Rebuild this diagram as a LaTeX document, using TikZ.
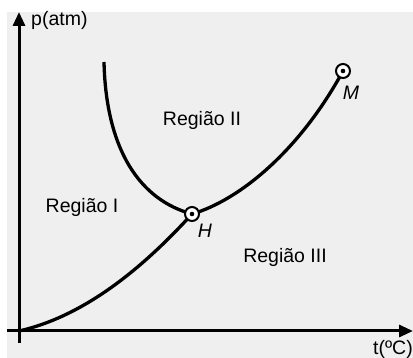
\documentclass[tikz,border=0pt]{standalone}
\usepackage{fontspec}
\setmainfont{Liberation Sans}
\usetikzlibrary{arrows.meta}
\definecolor{bggray}{HTML}{EFEFEF}

\begin{document}
\begin{tikzpicture}[x=1pt,y=-1pt,
    axis/.style={line width=3pt,-{Triangle[length=14pt,width=12pt]}},
    curve/.style={line width=3.3pt},
    lbl/.style={inner sep=0pt,font=\fontsize{19.5}{22}\selectfont}]
    % Size of the marked points
    \def\rad{7}

    % Gray background, white margin on the top and left
    \useasboundingbox (0,0) rectangle (413,358);
    \fill[bggray] (7,12) rectangle (413,358);

    % Points of the diagram
    \coordinate (O) at (19,331);
    \coordinate (H) at (192,214);
    \coordinate (M) at (343,71);
    \coordinate (top) at (104,62);

    % Axes
    \coordinate (ybot) at (19,343);
    \coordinate (ytop) at (19,12);
    \coordinate (xleft) at (7,331);
    \coordinate (xright) at (413,331);
    \draw[axis] (ybot) -- (ytop);
    \draw[axis] (xleft) -- (xright);

    % Curves between the regions
    \draw[curve] (O) .. controls (90,315) and (150,260) .. (H);
    \draw[curve] (top) .. controls (106,150) and (140,200) .. (H);
    \draw[curve] (H) .. controls (240,200) and (300,150) .. (M);

    % Marked points H and M
    \filldraw[fill=white,line width=2pt] (H) circle (\rad);
    \fill (H) circle (2.3);
    \filldraw[fill=white,line width=2pt] (M) circle (\rad);
    \fill (M) circle (2.3);

    % Labels
    \node[lbl,anchor=west] (plabel) at (31,20) {p(atm)};
    \node[lbl,anchor=east] (tlabel) at (413,349) {t(ºC)};
    \node[lbl] (hlabel) at (205,231) {\itshape H};
    \node[lbl] (mlabel) at (351,93) {\itshape M};
    \node[lbl] (reg1) at (82,207) {Região I};
    \node[lbl] (reg2) at (202,120) {Região II};
    \node[lbl] (reg3) at (285,257) {Região III};
\end{tikzpicture}
\end{document}
